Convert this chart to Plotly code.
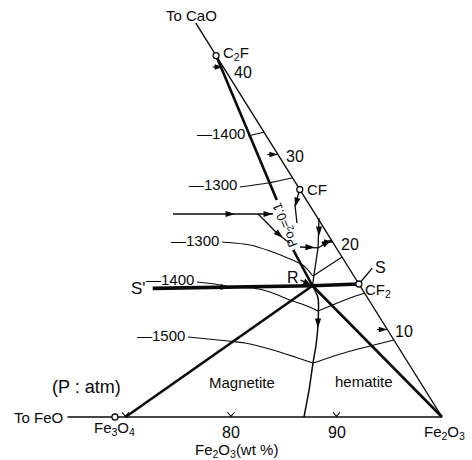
import math
import plotly.graph_objects as go

INK = "#0a0a0a"
FONT = "Liberation Sans, Arial, sans-serif"

# ---------------- data: compositions (wt% Fe2O3, wt% CaO) ----------------
bottom_edge_fe2o3 = [64.5, 100.0]
bottom_edge_cao = [0.0, 0.0]
right_edge_fe2o3 = [100.0, 55.0]
right_edge_cao = [0.0, 45.0]

compound_names = ["Fe<sub>3</sub>O<sub>4</sub>", "C<sub>2</sub>F", "CF", "CF<sub>2</sub>"]
compound_fe2o3 = [69.0, 58.7, 74.0, 84.8]
compound_cao = [0.0, 41.3, 26.0, 15.2]

fe2o3_ticks = [70, 80, 90]
fe2o3_tick_labels = ["", "80", "90"]
cao_ticks = [10, 20, 30, 40]
cao_tick_labels = ["10", "20", "30", "40"]

point_r = [80.5, 15.0]
point_s_prime = [65.5, 14.7]
point_s = [85.2, 17.0]

# heavy lines
sprime_r_cf2_fe2o3 = [65.5, 80.5, 84.8]
sprime_r_cf2_cao = [14.7, 15.0, 15.2]
r_magnetite_fe2o3 = [80.5, 70.0]
r_magnetite_cao = [15.0, 0.0]
r_hematite_fe2o3 = [80.5, 100.0]
r_hematite_cao = [15.0, 0.0]
isobar_top_fe2o3 = [58.7, 72.4]
isobar_top_cao = [41.3, 24.8]
isobar_bottom_fe2o3 = [76.7, 80.5]
isobar_bottom_cao = [19.1, 15.0]

# boundary curves
mag_hem_fe2o3 = [80.5, 81.70, 83.13, 84.10, 84.80, 85.91, 86.92]
mag_hem_cao = [15.0, 13.60, 10.63, 8.23, 6.17, 3.09, 0.0]
left_bnd_fe2o3 = [63.33, 72.81]
left_bnd_cao = [23.2, 23.2]
curve_bnd_fe2o3 = [71.39, 72.59, 73.93, 75.08, 76.01]
curve_bnd_cao = [23.2, 22.29, 21.26, 20.46, 19.89]
cf_bnd_fe2o3 = [74.0, 74.40, 75.58]
cf_bnd_cao = [26.0, 24.23, 22.17]
edge_j_fe2o3 = [77.39, 78.95]
edge_j_cao = [22.74, 19.32]
p_j_fe2o3 = [77.18, 78.95]
p_j_cao = [19.43, 19.32]
j_edge_fe2o3 = [78.95, 79.74]
j_edge_cao = [19.32, 20.23]
j_r_fe2o3 = [78.95, 79.76, 80.5]
j_r_cao = [19.32, 17.03, 15.0]
s_line_fe2o3 = [84.8, 85.2]
s_line_cao = [15.2, 17.0]

# isotherms (deg C)
iso1400_top_fe2o3 = [66.14, 66.80, 67.45]
iso1400_top_cao = [32.12, 32.34, 32.55]
iso1300_top_fe2o3 = [68.19, 70.63, 72.63]
iso1300_top_cao = [26.29, 26.74, 27.32]
iso1300_low_fe2o3 = [69.52, 72.33, 74.56, 76.90, 78.61, 80.01]
iso1300_low_cao = [20.0, 19.66, 18.97, 18.06, 17.26, 16.11]
iso1300_low_b_fe2o3 = [80.01, 81.72]
iso1300_low_b_cao = [16.11, 18.29]
iso1400_low_fe2o3 = [69.35, 71.16, 72.75, 74.99, 76.82, 79.15, 81.09, 82.42]
iso1400_low_cao = [15.43, 15.20, 14.86, 14.74, 14.29, 13.37, 12.69, 12.11]
iso1400_low_b_fe2o3 = [82.42, 83.64, 84.73, 85.88]
iso1400_low_b_cao = [12.11, 12.91, 13.60, 14.17]
iso1500_fe2o3 = [71.52, 75.53, 77.25, 80.29, 82.77, 84.80]
iso1500_cao = [9.14, 8.69, 8.46, 7.66, 6.86, 6.17]
iso1500_b_fe2o3 = [84.80, 87.42, 89.27, 91.2]
iso1500_b_cao = [6.17, 7.43, 8.11, 8.80]
isotherm_labels = ["1400", "1300", "1300", "1400", "1500"]

# direction arrows on boundary curves (tail -> tip)
flow_tail_fe2o3 = [68.26, 71.9, 73.93, 74.0, 77.83, 77.18, 78.95, 82.80, 71.8]
flow_tail_cao = [23.2, 23.2, 21.26, 26.0, 21.83, 19.43, 19.32, 11.31, 14.86]
flow_tip_fe2o3 = [69.21, 72.81, 75.08, 74.51, 78.38, 78.63, 79.74, 83.35, 72.75]
flow_tip_cao = [23.2, 23.2, 20.46, 24.0, 20.69, 19.37, 20.23, 10.17, 14.86]

# ---------------- projection of the ternary (wt%) onto the page ----------------
K_X = 0.4815
K_Y = 0.8294


def proj(f, c):
    return [a + K_X * b for a, b in zip(f, c)], [K_Y * b for b in c]


fig = go.Figure()


def line(f, c, w, shape="linear"):
    x, y = proj(f, c)
    fig.add_trace(go.Scatter(x=x, y=y, mode="lines",
                             line=dict(color=INK, width=w, shape=shape, smoothing=0.7),
                             hoverinfo="skip"))


def label(f, c, text, size=15, xanchor="center", xshift=0, yshift=0, textangle=0):
    x, y = proj([f], [c])
    fig.add_annotation(x=x[0], y=y[0], text=text, showarrow=False, xanchor=xanchor,
                       yanchor="middle", xshift=xshift, yshift=yshift, textangle=textangle,
                       font=dict(family=FONT, size=size, color=INK))


def arrowheads(x0s, y0s, x1s, y1s, size):
    ang = [math.degrees(math.atan2(x1 - x0, y1 - y0)) for x0, y0, x1, y1 in zip(x0s, y0s, x1s, y1s)]
    fig.add_trace(go.Scatter(x=x1s, y=y1s, mode="markers", hoverinfo="skip",
                             marker=dict(symbol="arrow", size=size, angle=ang, color=INK,
                                         line=dict(width=0))))


# edges
line(bottom_edge_fe2o3, bottom_edge_cao, 1.5)
line(right_edge_fe2o3, right_edge_cao, 1.4)

# heavy joins
line(sprime_r_cf2_fe2o3, sprime_r_cf2_cao, 3.6)
line(r_magnetite_fe2o3, r_magnetite_cao, 2.6)
line(r_hematite_fe2o3, r_hematite_cao, 2.6)
line(isobar_top_fe2o3, isobar_top_cao, 2.6)
line(isobar_bottom_fe2o3, isobar_bottom_cao, 2.6)

# boundaries
line(mag_hem_fe2o3, mag_hem_cao, 1.5, "spline")
line(left_bnd_fe2o3, left_bnd_cao, 1.3)
line(curve_bnd_fe2o3, curve_bnd_cao, 1.3, "spline")
line(cf_bnd_fe2o3, cf_bnd_cao, 1.3)
line(edge_j_fe2o3, edge_j_cao, 1.3)
line(p_j_fe2o3, p_j_cao, 1.3)
line(j_edge_fe2o3, j_edge_cao, 1.3)
line(j_r_fe2o3, j_r_cao, 1.3, "spline")
line(s_line_fe2o3, s_line_cao, 1.2)

# isotherms
iso_start = [(iso1400_top_fe2o3, iso1400_top_cao), (iso1300_top_fe2o3, iso1300_top_cao),
             (iso1300_low_fe2o3, iso1300_low_cao), (iso1400_low_fe2o3, iso1400_low_cao),
             (iso1500_fe2o3, iso1500_cao)]
for f, c in iso_start:
    line(f, c, 1.1, "spline")
for f, c in [(iso1300_low_b_fe2o3, iso1300_low_b_cao), (iso1400_low_b_fe2o3, iso1400_low_b_cao),
             (iso1500_b_fe2o3, iso1500_b_cao)]:
    line(f, c, 1.1, "spline")
for (f, c), lab in zip(iso_start, isotherm_labels):
    label(f[0], c[0], "\u2014" + lab, xanchor="right", xshift=-1, yshift=2)

# bottom axis ticks ("v" marks)
tx, ty = [], []
for t in fe2o3_ticks:
    bx, by = proj([t], [0.0])
    tx += [bx[0] - 0.33, bx[0], bx[0] + 0.33, None]
    ty += [by[0] + 0.45, by[0] + 0.05, by[0] + 0.45, None]
fig.add_trace(go.Scatter(x=tx, y=ty, mode="lines", line=dict(color=INK, width=1.1), hoverinfo="skip"))
for t, lab in zip(fe2o3_ticks, fe2o3_tick_labels):
    if lab:
        label(t, 0.0, lab, size=16, yshift=-15)

# CaO edge ticks (short arrows ending on the edge) and labels
ex, ey = proj([100.0 - t for t in cao_ticks], [float(t) for t in cao_ticks])
sx, sy = [], []
for x1, y1 in zip(ex, ey):
    sx += [x1 - 1.0, x1, None]
    sy += [y1, y1, None]
fig.add_trace(go.Scatter(x=sx, y=sy, mode="lines", line=dict(color=INK, width=1.1), hoverinfo="skip"))
arrowheads([x - 1.0 for x in ex], ey, ex, ey, 9)
for t, lab in zip(cao_ticks, cao_tick_labels):
    if t == 40:
        label(100.0 - t, t, lab, size=16, xanchor="left", xshift=9, yshift=-6)
    else:
        label(100.0 - t, t, lab, size=16, xanchor="left", xshift=6, yshift=-2)

# flow arrows
fx0, fy0 = proj(flow_tail_fe2o3, flow_tail_cao)
fx1, fy1 = proj(flow_tip_fe2o3, flow_tip_cao)
arrowheads(fx0, fy0, fx1, fy1, 10)

# compounds
cx, cy = proj(compound_fe2o3, compound_cao)
fig.add_trace(go.Scatter(x=cx, y=cy, mode="markers",
                         marker=dict(symbol="circle", size=6, color="white",
                                     line=dict(color=INK, width=1.3)),
                         hoverinfo="skip"))
comp_style = [dict(yshift=-11), dict(xanchor="left", xshift=5, yshift=2),
              dict(xanchor="left", xshift=5), dict(xanchor="left", xshift=4, yshift=-6)]
for f, c, name, st in zip(compound_fe2o3, compound_cao, compound_names, comp_style):
    label(f, c, name, size=15, **st)

# R with pointer
(rx,), (ry,) = proj([80.17], [15.2])
(lx,), (ly,) = proj([78.18], [16.0])
fig.add_annotation(x=rx, y=ry, ax=lx, ay=ly, xref="x", yref="y", axref="x", ayref="y",
                   text="R", showarrow=True, arrowhead=2, arrowsize=1.1, arrowwidth=1.2,
                   arrowcolor=INK, font=dict(family=FONT, size=16, color=INK))

# other texts
label(point_s_prime[0], point_s_prime[1], "S'", size=17, xanchor="right", xshift=-5)
label(point_s[0], point_s[1], "S", size=16, xanchor="left", xshift=1, yshift=1)
label(bottom_edge_fe2o3[0], 0.0, "To FeO", size=15, xanchor="right", xshift=-2)
label(right_edge_fe2o3[1], right_edge_cao[1], "To CaO", size=15, xshift=-4, yshift=8)
label(100.0, 0.0, "Fe<sub>2</sub>O<sub>3</sub>", size=15, xshift=2, yshift=-15)
label(80.5, 0.0, "Fe<sub>2</sub>O<sub>3</sub>(wt %)", size=15, yshift=-33)
label(79.1, 4.0, "Magnetite", size=15)
label(90.6, 4.1, "hematite", size=15)
label(64.7, 3.4, "(P : atm)", size=18)
label(74.59, 22.06, "Po<sub>2</sub>=0.1", size=13, textangle=-112)

fig.update_layout(
    width=472, height=460, margin=dict(l=0, r=0, t=0, b=0),
    font=dict(family=FONT, size=15, color=INK),
    paper_bgcolor="white", plot_bgcolor="white", showlegend=False, hovermode=False,
    xaxis=dict(range=[58.104, 102.844], visible=False, fixedrange=True),
    yaxis=dict(range=[-4.076, 39.526], visible=False, fixedrange=True),
)

fig.write_html("out.html", config={"displayModeBar": False},
               post_script="document.body.style.margin='0';")
